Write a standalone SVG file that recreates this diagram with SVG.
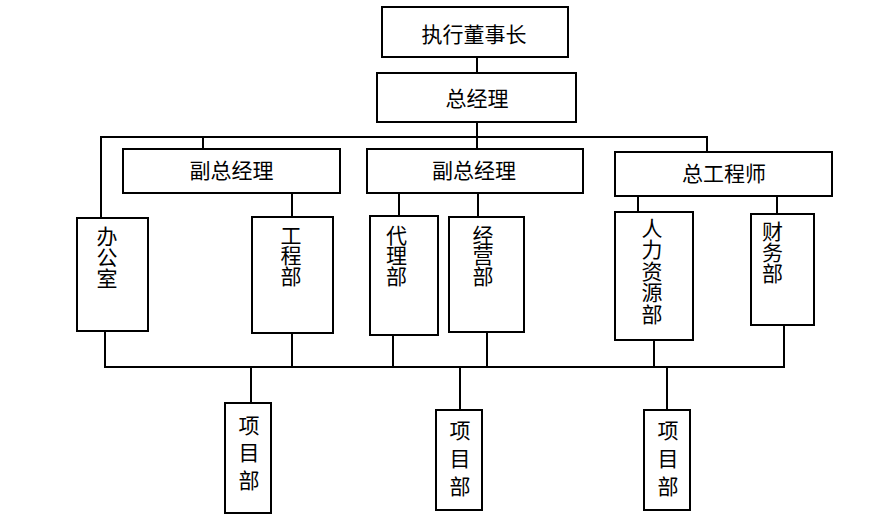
<svg xmlns="http://www.w3.org/2000/svg" width="871" height="520" viewBox="0 0 871 520">
<style>
  rect { fill: #fff; stroke: #000; stroke-width: 2; }
  .c line, .c polyline { stroke: #000; stroke-width: 2; fill: none; }
  text { font-family: "Noto Sans CJK SC", "Noto Sans", sans-serif; font-size: 21px; fill: #000; text-anchor: middle; }
</style>
<rect x="0" y="0" width="871" height="520" style="stroke:none;fill:#fff"/>
<g class="c" id="connectors">
  <line x1="477" y1="57" x2="477" y2="73"/>
  <line x1="477" y1="122" x2="477" y2="149"/>
  <polyline points="101,218 101,137 707,137 707,152"/>
  <line x1="203" y1="137" x2="203" y2="149"/>
  <line x1="292" y1="193" x2="292" y2="217"/>
  <line x1="399" y1="193" x2="399" y2="216"/>
  <line x1="478" y1="193" x2="478" y2="217"/>
  <line x1="638" y1="196" x2="638" y2="212"/>
  <line x1="777" y1="196" x2="777" y2="214"/>
  <polyline points="105,331 105,367 784,367 784,325"/>
  <line x1="292" y1="333" x2="292" y2="367"/>
  <line x1="393" y1="335" x2="393" y2="367"/>
  <line x1="487" y1="332" x2="487" y2="367"/>
  <line x1="654" y1="340" x2="654" y2="367"/>
  <line x1="251" y1="367" x2="251" y2="403"/>
  <line x1="460" y1="367" x2="460" y2="410"/>
  <line x1="667" y1="367" x2="667" y2="410"/>
</g>
<g id="chairman"><rect x="382" y="7" width="186" height="50"/><text x="474" y="41.5">执行董事长</text></g>
<g id="gm"><rect x="377" y="73" width="199" height="49"/><text x="477" y="106">总经理</text></g>
<g id="vgm1"><rect x="123" y="149" width="217" height="44"/><text x="231.5" y="178">副总经理</text></g>
<g id="vgm2"><rect x="367" y="149" width="216" height="44"/><text x="474" y="178">副总经理</text></g>
<g id="chief-eng"><rect x="615" y="152" width="217" height="44"/><text x="724" y="181">总工程师</text></g>
<g id="office"><rect x="77" y="218" width="71" height="113"/><text x="107" y="244">办<tspan x="107" dy="21">公</tspan><tspan x="107" dy="21">室</tspan></text></g>
<g id="eng-dept"><rect x="252" y="217" width="81" height="116"/><text x="291" y="242.5">工<tspan x="291" dy="20.7">程</tspan><tspan x="291" dy="20.7">部</tspan></text></g>
<g id="agency-dept"><rect x="370" y="216" width="68" height="119"/><text x="396.5" y="242.5">代<tspan x="396.5" dy="20.7">理</tspan><tspan x="396.5" dy="20.7">部</tspan></text></g>
<g id="biz-dept"><rect x="449" y="217" width="75" height="115"/><text x="483" y="242.5">经<tspan x="483" dy="20.7">营</tspan><tspan x="483" dy="20.7">部</tspan></text></g>
<g id="hr-dept"><rect x="615" y="212" width="78" height="128"/><text x="652" y="235.5">人<tspan x="652" dy="21.5">力</tspan><tspan x="652" dy="21.5">资</tspan><tspan x="652" dy="21.5">源</tspan><tspan x="652" dy="21.5">部</tspan></text></g>
<g id="finance-dept"><rect x="751" y="214" width="63" height="111"/><text x="772.5" y="239">财<tspan x="772.5" dy="21">务</tspan><tspan x="772.5" dy="21">部</tspan></text></g>
<g id="proj1"><rect x="225" y="403" width="46" height="110"/><text x="249" y="432.5">项<tspan x="249" dy="27.5">目</tspan><tspan x="249" dy="27.5">部</tspan></text></g>
<g id="proj2"><rect x="436" y="410" width="46" height="100"/><text x="460" y="437.5">项<tspan x="460" dy="28">目</tspan><tspan x="460" dy="28">部</tspan></text></g>
<g id="proj3"><rect x="644" y="410" width="46" height="100"/><text x="668" y="437.5">项<tspan x="668" dy="28">目</tspan><tspan x="668" dy="28">部</tspan></text></g>
</svg>
